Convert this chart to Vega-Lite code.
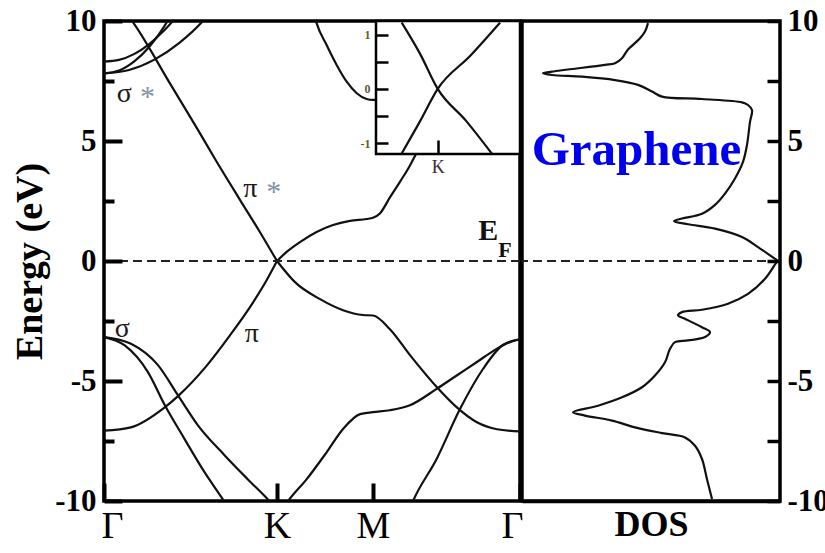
{
  "$schema": "https://vega.github.io/schema/vega-lite/v6.json",
  "background": "white",
  "padding": {"left": 9, "top": 3, "right": 0, "bottom": 0},
  "bounds": "flush",
  "spacing": 2,
  "config": {
    "font": "Liberation Serif",
    "view": {"stroke": "black", "strokeWidth": 3.5},
    "axis": {
      "grid": false,
      "domain": false,
      "labelFont": "Liberation Serif",
      "titleFont": "Liberation Serif",
      "tickColor": "black",
      "labelColor": "black",
      "titleColor": "black",
      "labelOverlap": false,
      "labelBound": false
    }
  },
  "datasets": {
    "bands": [
      {"band": "pi_star_GK", "k": 0.150, "E": 10.12},
      {"band": "pi_star_GK", "k": 0.168, "E": 9.94},
      {"band": "pi_star_GK", "k": 0.382, "E": 7.39},
      {"band": "pi_star_GK", "k": 0.555, "E": 5.32},
      {"band": "pi_star_GK", "k": 0.642, "E": 4.25},
      {"band": "pi_star_GK", "k": 0.786, "E": 2.55},
      {"band": "pi_star_GK", "k": 0.902, "E": 1.2},
      {"band": "pi_star_GK", "k": 1.0, "E": 0},
      {"band": "pi_star_KMG", "k": 1.0, "E": 0},
      {"band": "pi_star_KMG", "k": 1.056, "E": 0.38},
      {"band": "pi_star_KMG", "k": 1.133, "E": 0.79},
      {"band": "pi_star_KMG", "k": 1.229, "E": 1.21},
      {"band": "pi_star_KMG", "k": 1.324, "E": 1.5},
      {"band": "pi_star_KMG", "k": 1.422, "E": 1.67},
      {"band": "pi_star_KMG", "k": 1.518, "E": 1.75},
      {"band": "pi_star_KMG", "k": 1.555, "E": 1.8},
      {"band": "pi_star_KMG", "k": 1.595, "E": 1.98},
      {"band": "pi_star_KMG", "k": 1.653, "E": 2.65},
      {"band": "pi_star_KMG", "k": 1.711, "E": 3.3},
      {"band": "pi_star_KMG", "k": 1.769, "E": 3.98},
      {"band": "pi_star_KMG", "k": 1.798, "E": 4.38},
      {"band": "pi_star_KMG", "k": 1.884, "E": 5.5},

      {"band": "pi_GK", "k": 0.0, "E": -7.07},
      {"band": "pi_GK", "k": 0.156, "E": -6.93},
      {"band": "pi_GK", "k": 0.351, "E": -6.1},
      {"band": "pi_GK", "k": 0.431, "E": -5.61},
      {"band": "pi_GK", "k": 0.594, "E": -4.36},
      {"band": "pi_GK", "k": 0.728, "E": -3.1},
      {"band": "pi_GK", "k": 0.863, "E": -1.71},
      {"band": "pi_GK", "k": 0.94, "E": -0.8},
      {"band": "pi_GK", "k": 1.0, "E": 0},
      {"band": "pi_KMG", "k": 1.0, "E": 0},
      {"band": "pi_KMG", "k": 1.104, "E": -0.88},
      {"band": "pi_KMG", "k": 1.249, "E": -1.59},
      {"band": "pi_KMG", "k": 1.382, "E": -2.05},
      {"band": "pi_KMG", "k": 1.497, "E": -2.25},
      {"band": "pi_KMG", "k": 1.555, "E": -2.27},
      {"band": "pi_KMG", "k": 1.653, "E": -2.84},
      {"band": "pi_KMG", "k": 1.769, "E": -3.92},
      {"band": "pi_KMG", "k": 1.925, "E": -5.26},
      {"band": "pi_KMG", "k": 2.040, "E": -6.1},
      {"band": "pi_KMG", "k": 2.156, "E": -6.72},
      {"band": "pi_KMG", "k": 2.272, "E": -7.01},
      {"band": "pi_KMG", "k": 2.405, "E": -7.1},

      {"band": "sigma_1", "k": 0.0, "E": -3.17},
      {"band": "sigma_1", "k": 0.120, "E": -3.52},
      {"band": "sigma_1", "k": 0.254, "E": -4.63},
      {"band": "sigma_1", "k": 0.351, "E": -6.0},
      {"band": "sigma_1", "k": 0.466, "E": -7.42},
      {"band": "sigma_1", "k": 0.582, "E": -8.81},
      {"band": "sigma_1", "k": 0.688, "E": -9.94},
      {"band": "sigma_1", "k": 0.72, "E": -10.3},

      {"band": "sigma_2", "k": 0.0, "E": -3.17},
      {"band": "sigma_2", "k": 0.156, "E": -3.45},
      {"band": "sigma_2", "k": 0.312, "E": -4.34},
      {"band": "sigma_2", "k": 0.428, "E": -5.6},
      {"band": "sigma_2", "k": 0.543, "E": -6.85},
      {"band": "sigma_2", "k": 0.698, "E": -8.1},
      {"band": "sigma_2", "k": 0.832, "E": -9.1},
      {"band": "sigma_2", "k": 0.948, "E": -9.94},
      {"band": "sigma_2", "k": 0.975, "E": -10.15},

      {"band": "sigma_3", "k": 1.046, "E": -10.2},
      {"band": "sigma_3", "k": 1.065, "E": -10.0},
      {"band": "sigma_3", "k": 1.172, "E": -9.09},
      {"band": "sigma_3", "k": 1.287, "E": -7.97},
      {"band": "sigma_3", "k": 1.382, "E": -7.0},
      {"band": "sigma_3", "k": 1.480, "E": -6.38},
      {"band": "sigma_3", "k": 1.555, "E": -6.3},
      {"band": "sigma_3", "k": 1.653, "E": -6.22},
      {"band": "sigma_3", "k": 1.769, "E": -6.01},
      {"band": "sigma_3", "k": 1.923, "E": -5.33},
      {"band": "sigma_3", "k": 2.039, "E": -4.77},
      {"band": "sigma_3", "k": 2.154, "E": -4.22},
      {"band": "sigma_3", "k": 2.270, "E": -3.66},
      {"band": "sigma_3", "k": 2.347, "E": -3.38},
      {"band": "sigma_3", "k": 2.405, "E": -3.26},

      {"band": "sigma_4", "k": 1.775, "E": -10.2},
      {"band": "sigma_4", "k": 1.788, "E": -9.98},
      {"band": "sigma_4", "k": 1.923, "E": -8.25},
      {"band": "sigma_4", "k": 2.058, "E": -6.17},
      {"band": "sigma_4", "k": 2.191, "E": -4.5},
      {"band": "sigma_4", "k": 2.306, "E": -3.5},
      {"band": "sigma_4", "k": 2.405, "E": -3.26},

      {"band": "sigma_star_M", "k": 1.214, "E": 10.3},
      {"band": "sigma_star_M", "k": 1.229, "E": 9.91},
      {"band": "sigma_star_M", "k": 1.287, "E": 9.0},
      {"band": "sigma_star_M", "k": 1.345, "E": 8.17},
      {"band": "sigma_star_M", "k": 1.403, "E": 7.47},
      {"band": "sigma_star_M", "k": 1.461, "E": 6.99},
      {"band": "sigma_star_M", "k": 1.518, "E": 6.75},
      {"band": "sigma_star_M", "k": 1.555, "E": 6.71},
      {"band": "sigma_star_M", "k": 1.6, "E": 6.72},

      {"band": "sigma_star_1", "k": 0.0, "E": 8.31},
      {"band": "sigma_star_1", "k": 0.087, "E": 8.38},
      {"band": "sigma_star_1", "k": 0.173, "E": 8.62},
      {"band": "sigma_star_1", "k": 0.260, "E": 9.03},
      {"band": "sigma_star_1", "k": 0.347, "E": 9.6},
      {"band": "sigma_star_1", "k": 0.405, "E": 10.06},
      {"band": "sigma_star_1", "k": 0.43, "E": 10.3},

      {"band": "sigma_star_2", "k": 0.0, "E": 7.82},
      {"band": "sigma_star_2", "k": 0.087, "E": 7.94},
      {"band": "sigma_star_2", "k": 0.173, "E": 8.31},
      {"band": "sigma_star_2", "k": 0.260, "E": 8.91},
      {"band": "sigma_star_2", "k": 0.318, "E": 9.45},
      {"band": "sigma_star_2", "k": 0.370, "E": 10.03},
      {"band": "sigma_star_2", "k": 0.393, "E": 10.32},

      {"band": "sigma_star_3", "k": 0.0, "E": 7.82},
      {"band": "sigma_star_3", "k": 0.145, "E": 7.96},
      {"band": "sigma_star_3", "k": 0.289, "E": 8.38},
      {"band": "sigma_star_3", "k": 0.434, "E": 9.08},
      {"band": "sigma_star_3", "k": 0.572, "E": 10.0},
      {"band": "sigma_star_3", "k": 0.607, "E": 10.29}
    ],
    "cone": [
      {"branch": "a", "k": -0.35, "E": 1.22},
      {"branch": "a", "k": -0.17, "E": 0.64},
      {"branch": "a", "k": 0.0, "E": 0.0},
      {"branch": "a", "k": 0.276, "E": -0.59},
      {"branch": "a", "k": 0.525, "E": -1.19},
      {"branch": "b", "k": -0.35, "E": -1.19},
      {"branch": "b", "k": -0.17, "E": -0.59},
      {"branch": "b", "k": 0.0, "E": 0.0},
      {"branch": "b", "k": 0.314, "E": 0.604},
      {"branch": "b", "k": 0.606, "E": 1.22}
    ],
    "dos": [
      {"v": 1.32, "E": 9.91}, {"v": 1.35, "E": 9.56}, {"v": 1.40, "E": 9.28},
      {"v": 1.52, "E": 8.81}, {"v": 1.58, "E": 8.45}, {"v": 1.65, "E": 8.24},
      {"v": 1.75, "E": 8.17}, {"v": 2.28, "E": 7.89}, {"v": 2.37, "E": 7.82},
      {"v": 2.28, "E": 7.75}, {"v": 1.98, "E": 7.68}, {"v": 1.65, "E": 7.54},
      {"v": 1.42, "E": 7.34}, {"v": 1.28, "E": 7.06}, {"v": 1.18, "E": 6.85},
      {"v": 0.78, "E": 6.75}, {"v": 0.38, "E": 6.61}, {"v": 0.32, "E": 6.50},
      {"v": 0.28, "E": 6.29}, {"v": 0.30, "E": 5.80}, {"v": 0.33, "E": 4.84},
      {"v": 0.37, "E": 4.13}, {"v": 0.45, "E": 3.44}, {"v": 0.55, "E": 2.81},
      {"v": 0.65, "E": 2.34}, {"v": 0.78, "E": 1.97}, {"v": 0.98, "E": 1.77},
      {"v": 1.06, "E": 1.66}, {"v": 0.92, "E": 1.53}, {"v": 0.65, "E": 1.35},
      {"v": 0.38, "E": 1.0}, {"v": 0.22, "E": 0.58}, {"v": 0.03, "E": 0.03},
      {"v": 0.02, "E": 0.0}, {"v": 0.03, "E": -0.03}, {"v": 0.15, "E": -0.74},
      {"v": 0.32, "E": -1.37}, {"v": 0.52, "E": -1.78}, {"v": 0.78, "E": -2.03},
      {"v": 0.98, "E": -2.13}, {"v": 1.02, "E": -2.27}, {"v": 0.95, "E": -2.41},
      {"v": 0.78, "E": -2.76}, {"v": 0.70, "E": -2.96}, {"v": 0.75, "E": -3.17},
      {"v": 0.92, "E": -3.31}, {"v": 1.05, "E": -3.38}, {"v": 1.10, "E": -3.66},
      {"v": 1.15, "E": -4.22}, {"v": 1.25, "E": -4.77}, {"v": 1.38, "E": -5.26},
      {"v": 1.58, "E": -5.68}, {"v": 1.82, "E": -6.03}, {"v": 2.07, "E": -6.30},
      {"v": 1.95, "E": -6.44}, {"v": 1.68, "E": -6.65}, {"v": 1.45, "E": -6.93},
      {"v": 1.18, "E": -7.17}, {"v": 0.95, "E": -7.35}, {"v": 0.85, "E": -7.70},
      {"v": 0.78, "E": -8.25}, {"v": 0.73, "E": -9.09}, {"v": 0.68, "E": -9.92}
    ],
    "greek": [
      {"k": 0.073, "E": 6.64, "label": "σ"},
      {"k": 0.805, "E": 2.67, "label": "π"},
      {"k": 0.062, "E": -3.17, "label": "σ"},
      {"k": 0.813, "E": -3.38, "label": "π"}
    ],
    "stars": [
      {"k": 0.208, "E": 6.47, "label": "*"},
      {"k": 0.938, "E": 2.5, "label": "*"}
    ]
  },
  "hconcat": [
    {
      "width": 416,
      "height": 480,
      "layer": [
        {
          "layer": [
            {
              "data": {"name": "bands"},
              "mark": {"type": "line", "clip": true, "color": "#111", "strokeWidth": 2.2, "interpolate": "monotone"},
              "encoding": {
                "x": {
                  "field": "k", "type": "quantitative",
                  "scale": {"domain": [0, 2.405], "nice": false, "zero": false},
                  "axis": {
                    "orient": "bottom", "values": [0, 1, 1.555, 2.405],
                    "labelExpr": "datum.value == 1 ? 'K' : (datum.value == 1.555 ? 'M' : 'Γ')",
                    "tickSize": -18, "tickWidth": 4, "labelFontSize": 38,
                    "labelPadding": 24, "labelFlush": true, "labelFlushOffset": 3,
                    "title": null, "zindex": 1
                  }
                },
                "y": {
                  "field": "E", "type": "quantitative",
                  "scale": {"domain": [-10, 10], "nice": false, "zero": false},
                  "axis": {
                    "orient": "left", "values": [-10, -5, 0, 5, 10],
                    "labelExpr": "'' + datum.value",
                    "tickSize": -18, "tickWidth": 4, "labelFontSize": 31,
                    "labelFontWeight": "bold", "labelPadding": 26,
                    "title": "Energy (eV)", "titleFontSize": 38, "titleFontWeight": "bold",
                    "titlePadding": 5, "zindex": 1
                  }
                },
                "detail": {"field": "band"},
                "order": {"field": "k"}
              }
            },
            {
              "data": {"values": [{"E": 0}]},
              "mark": {"type": "rule", "color": "#222", "strokeWidth": 2, "strokeDash": [9, 5]},
              "encoding": {
                "y": {
                  "field": "E", "type": "quantitative",
                  "scale": {"domain": [-10, 10], "nice": false, "zero": false},
                  "axis": {
                    "orient": "left", "values": [-7.5, -2.5, 2.5, 7.5],
                    "tickSize": -10, "tickWidth": 4, "labels": false,
                    "title": null, "zindex": 1
                  }
                }
              }
            },
            {
              "data": {"name": "greek"},
              "mark": {"type": "text", "align": "left", "baseline": "alphabetic", "font": "Liberation Serif", "fontSize": 28, "color": "#1a1a1a"},
              "encoding": {
                "x": {"field": "k", "type": "quantitative", "scale": {"domain": [0, 2.405], "nice": false, "zero": false}, "axis": null},
                "y": {"field": "E", "type": "quantitative", "scale": {"domain": [-10, 10], "nice": false, "zero": false}, "axis": null},
                "text": {"field": "label"}
              }
            },
            {
              "data": {"name": "stars"},
              "mark": {"type": "text", "align": "left", "baseline": "alphabetic", "font": "Liberation Serif", "fontSize": 30, "color": "#7d92a8"},
              "encoding": {
                "x": {"field": "k", "type": "quantitative", "scale": {"domain": [0, 2.405], "nice": false, "zero": false}, "axis": null},
                "y": {"field": "E", "type": "quantitative", "scale": {"domain": [-10, 10], "nice": false, "zero": false}, "axis": null},
                "text": {"field": "label"}
              }
            },
            {
              "data": {"values": [{"k": 2.164, "E": 0.86, "label": "E"}]},
              "mark": {"type": "text", "align": "left", "baseline": "alphabetic", "font": "Liberation Serif", "fontWeight": "bold", "fontSize": 30, "color": "#111"},
              "encoding": {
                "x": {"field": "k", "type": "quantitative", "scale": {"domain": [0, 2.405], "nice": false, "zero": false}, "axis": null},
                "y": {"field": "E", "type": "quantitative", "scale": {"domain": [-10, 10], "nice": false, "zero": false}, "axis": null},
                "text": {"field": "label"}
              }
            },
            {
              "data": {"values": [{"k": 2.279, "E": 0.17, "label": "F"}]},
              "mark": {"type": "text", "align": "left", "baseline": "alphabetic", "font": "Liberation Serif", "fontWeight": "bold", "fontSize": 22, "color": "#111"},
              "encoding": {
                "x": {"field": "k", "type": "quantitative", "scale": {"domain": [0, 2.405], "nice": false, "zero": false}, "axis": null},
                "y": {"field": "E", "type": "quantitative", "scale": {"domain": [-10, 10], "nice": false, "zero": false}, "axis": null},
                "text": {"field": "label"}
              }
            }
          ],
          "resolve": {"axis": {"x": "independent", "y": "independent"}}
        },
        {
          "layer": [
            {
              "data": {"values": [{"k0": -0.6, "k1": 0.8, "E0": -1.2, "E1": 1.25}]},
              "mark": {"type": "rect", "fill": "white", "stroke": "black", "strokeWidth": 2.5},
              "encoding": {
                "x": {
                  "field": "k0", "type": "quantitative",
                  "scale": {"domain": [-0.6, 0.8], "range": [272, 416], "nice": false, "zero": false},
                  "axis": {
                    "orient": "bottom", "offset": -347, "values": [0],
                    "labelExpr": "'K'", "tickSize": -14, "tickWidth": 2.5,
                    "labelFontSize": 18, "labelPadding": 18, "labelFlush": false,
                    "labelColor": "#3a2a3a", "title": null, "zindex": 2
                  }
                },
                "x2": {"field": "k1"},
                "y": {
                  "field": "E0", "type": "quantitative",
                  "scale": {"domain": [-1.2, 1.25], "range": [133, 0], "nice": false, "zero": false},
                  "axis": {
                    "orient": "left", "offset": -272, "values": [-1, -0.5, 0, 0.5, 1],
                    "labelExpr": "datum.value % 1 == 0 ? '' + datum.value : ''",
                    "tickSize": -12, "tickWidth": 2.5, "labelFontSize": 12,
                    "labelFontWeight": "bold", "labelPadding": 18,
                    "labelColor": "#5c5c32", "title": null, "zindex": 2
                  }
                },
                "y2": {"field": "E1"}
              }
            },
            {
              "data": {"name": "cone"},
              "mark": {"type": "line", "color": "#111", "strokeWidth": 2.2, "interpolate": "monotone"},
              "encoding": {
                "x": {"field": "k", "type": "quantitative", "scale": {"domain": [-0.6, 0.8], "range": [272, 416], "nice": false, "zero": false}, "axis": null},
                "y": {"field": "E", "type": "quantitative", "scale": {"domain": [-1.2, 1.25], "range": [133, 0], "nice": false, "zero": false}, "axis": null},
                "detail": {"field": "branch"},
                "order": {"field": "k"}
              }
            }
          ],
          "resolve": {"axis": {"x": "independent", "y": "independent"}}
        }
      ],
      "resolve": {"scale": {"x": "independent", "y": "independent"}}
    },
    {
      "width": 258,
      "height": 480,
      "layer": [
        {
          "data": {"name": "dos"},
          "mark": {"type": "line", "clip": true, "color": "#111", "strokeWidth": 2.2, "interpolate": "catmull-rom"},
          "encoding": {
            "x": {
              "field": "v", "type": "quantitative",
              "scale": {"domain": [0, 2.58], "reverse": true, "nice": false, "zero": false},
              "axis": {
                "orient": "bottom", "labels": false, "ticks": false,
                "domain": true, "domainWidth": 3.5, "domainColor": "black",
                "title": "DOS", "titleFontSize": 36, "titleFontWeight": "bold", "titlePadding": 6
              }
            },
            "y": {
              "field": "E", "type": "quantitative",
              "scale": {"domain": [-10, 10], "nice": false, "zero": false},
              "axis": {
                "orient": "right", "values": [-10, -7.5, -5, -2.5, 0, 2.5, 5, 7.5, 10],
                "labelExpr": "datum.value % 5 == 0 ? '' + datum.value : ''",
                "tickSize": -13, "tickWidth": 3.5, "labelFontSize": 31,
                "labelFontWeight": "bold", "labelPadding": 20, "title": null, "zindex": 1
              }
            },
            "order": {"field": "E"}
          }
        },
        {
          "data": {"values": [{"E": 0}]},
          "mark": {"type": "rule", "color": "#222", "strokeWidth": 2, "strokeDash": [9, 5]},
          "encoding": {
            "y": {"field": "E", "type": "quantitative", "scale": {"domain": [-10, 10], "nice": false, "zero": false}}
          }
        },
        {
          "data": {"values": [{"v": 2.483, "E": 4.01, "label": "Graphene"}]},
          "mark": {"type": "text", "align": "left", "baseline": "alphabetic", "font": "Liberation Serif", "fontWeight": "bold", "fontSize": 49, "color": "#0000ee"},
          "encoding": {
            "x": {"field": "v", "type": "quantitative", "scale": {"domain": [0, 2.58], "reverse": true, "nice": false, "zero": false}},
            "y": {"field": "E", "type": "quantitative", "scale": {"domain": [-10, 10], "nice": false, "zero": false}},
            "text": {"field": "label"}
          }
        }
      ]
    }
  ]
}
